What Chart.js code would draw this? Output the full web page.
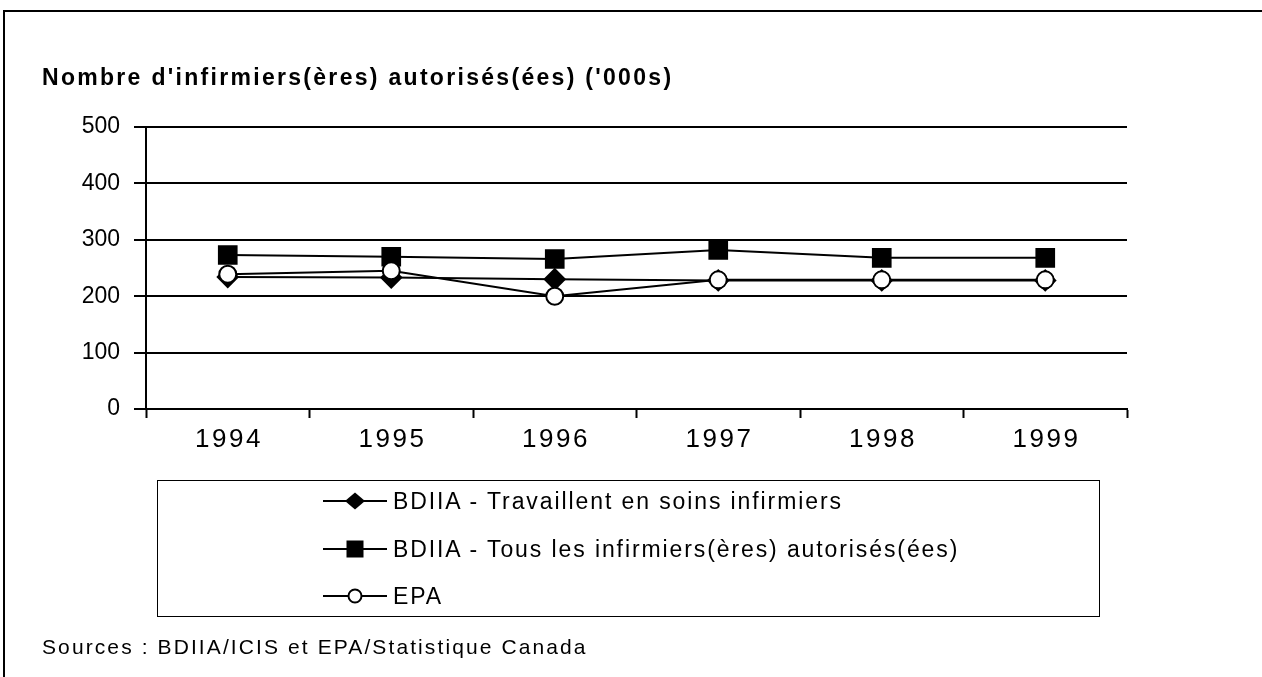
<!DOCTYPE html>
<html>
<head>
<meta charset="utf-8">
<script src="https://cdn.jsdelivr.net/npm/chart.js@4"></script>
<style>
html,body{margin:0;padding:0;background:#fff;width:1262px;height:677px;overflow:hidden;font-family:"Liberation Sans",Arial,sans-serif;color:#000;}
#frame{position:absolute;left:3px;top:10px;width:1300px;height:700px;border-left:2px solid #000;border-top:2px solid #000;}
#chartBox{position:absolute;left:0;top:0;width:1262px;height:677px;}
#title{position:absolute;left:42px;top:64px;font-weight:bold;font-size:23px;letter-spacing:2.3px;white-space:nowrap;}
#legend{position:absolute;left:157px;top:480px;width:943px;height:137px;border:1.5px solid #000;box-sizing:border-box;}
.item{position:absolute;left:165px;height:30px;display:flex;align-items:center;font-size:23px;letter-spacing:1.9px;white-space:nowrap;}
.item svg{margin-right:6px;}
#source{position:absolute;left:42px;top:635px;font-size:21px;letter-spacing:2.1px;white-space:nowrap;}
</style>
</head>
<body>
<div id="frame"></div>
<div id="chartBox"><canvas id="c" width="1262" height="677"></canvas></div>
<div id="title"></div>
<div id="legend"></div>
<div id="source"></div>
<script>
const titleText = "Nombre d'infirmiers(ères) autorisés(ées) ('000s)";
const sourceText = "Sources : BDIIA/ICIS et EPA/Statistique Canada";
const years = ['1994', '1995', '1996', '1997', '1998', '1999'];
const seriesNames = [
  'BDIIA - Travaillent en soins infirmiers',
  'BDIIA - Tous les infirmiers(ères) autorisés(ées)',
  'EPA'
];
const travaillent = [234, 233, 230, 228, 228, 228];
const tous = [273, 270, 266, 282, 268, 268];
const epa = [239, 245, 200, 229, 229, 229];
const yMin = 0, yMax = 500, yStep = 100;

document.getElementById('title').textContent = titleText;
document.getElementById('source').textContent = sourceText;

const styles = [
  {pointStyle: 'rectRot', radius: 10, bg: '#000', order: 2, lg: 'diamond'},
  {pointStyle: 'rect', radius: 12.5, bg: '#000', order: 1, lg: 'square'},
  {pointStyle: 'circle', radius: 8.5, bg: '#fff', order: 0, lg: 'circle'}
];
const seriesData = [travaillent, tous, epa];

const datasets = seriesData.map((d, i) => ({
  label: seriesNames[i],
  data: d,
  borderColor: '#000',
  borderWidth: 2,
  backgroundColor: styles[i].bg,
  pointStyle: styles[i].pointStyle,
  pointRadius: styles[i].radius,
  pointBorderWidth: 2,
  pointBorderColor: '#000',
  pointBackgroundColor: styles[i].bg,
  tension: 0,
  fill: false,
  order: styles[i].order
}));

function spaced(scale, px) {
  if (scale._spacedPatched) return;
  scale._spacedPatched = true;
  const orig = scale.drawLabels;
  scale.drawLabels = function (area) {
    const ctx = this.ctx;
    ctx.save();
    ctx.letterSpacing = px;
    ctx.translate(parseFloat(px) / 2, 0);
    orig.call(this, area);
    ctx.restore();
  };
}

new Chart(document.getElementById('c'), {
  type: 'line',
  data: {labels: years, datasets},
  options: {
    responsive: false,
    animation: false,
    events: [],
    layout: {padding: {left: 40, top: 127, right: 135, bottom: 208}},
    plugins: {legend: {display: false}, tooltip: {enabled: false}},
    scales: {
      x: {
        offset: true,
        grid: {offset: true, drawOnChartArea: false, drawTicks: true, tickLength: 9, tickColor: '#000', tickWidth: 2},
        border: {display: true, color: '#000', width: 2},
        ticks: {color: '#000', font: {family: '"Liberation Sans", Arial, sans-serif', size: 26}, padding: 6},
        afterFit: s => { s.height = 60; spaced(s, '2.5px'); }
      },
      y: {
        min: yMin, max: yMax,
        grid: {color: '#000', lineWidth: 2, drawTicks: true, tickLength: 12, tickColor: '#000'},
        border: {display: true, color: '#000', width: 2},
        ticks: {stepSize: yStep, color: '#000', font: {family: '"Liberation Sans", Arial, sans-serif', size: 23}, padding: 14},
        afterFit: s => { s.width = 106; }
      }
    }
  }
});

// HTML legend
const legend = document.getElementById('legend');
const rowTops = [5, 53, 100];
function markerSvg(kind) {
  let m = '';
  if (kind === 'diamond') m = '<polygon points="32,3.5 42,12 32,20.5 22,12" fill="#000"/>';
  else if (kind === 'square') m = '<rect x="23.5" y="3.5" width="17" height="17" fill="#000"/>';
  else m = '<circle cx="32" cy="12" r="6.5" fill="#fff" stroke="#000" stroke-width="2"/>';
  return '<svg width="64" height="24" viewBox="0 0 64 24"><line x1="0" y1="12" x2="64" y2="12" stroke="#000" stroke-width="2"/>' + m + '</svg>';
}
seriesNames.forEach((n, i) => {
  const d = document.createElement('div');
  d.className = 'item';
  d.style.top = rowTops[i] + 'px';
  d.innerHTML = markerSvg(styles[i].lg);
  const sp = document.createElement('span');
  sp.textContent = n;
  d.appendChild(sp);
  legend.appendChild(d);
});
</script>
</body>
</html>
